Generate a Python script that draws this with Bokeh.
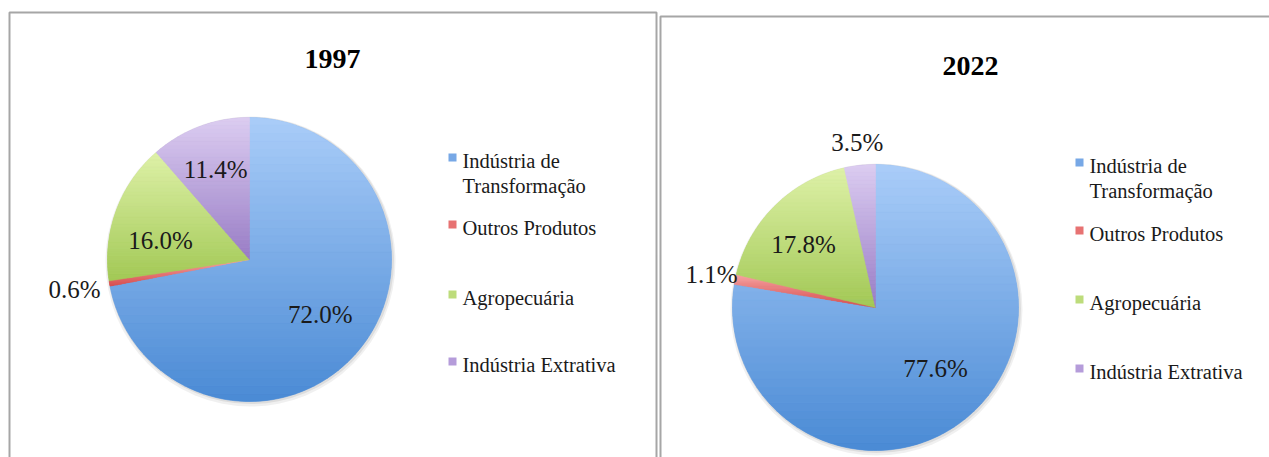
import math
from bokeh.plotting import figure
from bokeh.models import Range1d, ColumnDataSource
from bokeh.embed import file_html
from bokeh.resources import INLINE
from bokeh.core.properties import value

# ---------------- data ----------------
categories = ["Indústria de Transformação", "Outros Produtos", "Agropecuária", "Indústria Extrativa"]
legend_lines = [["Indústria de", "Transformação"], ["Outros Produtos"], ["Agropecuária"], ["Indústria Extrativa"]]
years = ["1997", "2022"]
shares_1997 = [72.0, 0.6, 16.0, 11.4]
shares_2022 = [77.6, 1.1, 17.8, 3.5]

# ---------------- style / layout ----------------
colors = ["#77a8e6", "#e77272", "#bddc7b", "#b59cda"]
light = ["#aacdf8", "#f6a4a4", "#def1a8", "#dccdf1"]
dark = ["#4a8ad5", "#d64c4c", "#a2c855", "#987cc5"]
FONT = "Liberation Serif"
W, H = 1269, 457

def sy(y):  # screen y -> data y
    return H - y

def hex2rgb(h):
    return tuple(int(h[i:i + 2], 16) for i in (1, 3, 5))

def mix(c0, c1, t):
    a, b = hex2rgb(c0), hex2rgb(c1)
    return "#%02x%02x%02x" % tuple(round(a[k] + (b[k] - a[k]) * t) for k in range(3))

def clip_band(poly, ylo, yhi):
    def half(pts, keep, yc):
        out = []
        n = len(pts)
        for k in range(n):
            P, Q = pts[k], pts[(k + 1) % n]
            pin, qin = keep(P), keep(Q)
            if pin:
                out.append(P)
            if pin != qin:
                out.append((P[0] + (Q[0] - P[0]) * (yc - P[1]) / (Q[1] - P[1]), yc))
        return out
    pts = half(poly, lambda P: P[1] >= ylo, ylo)
    if len(pts) < 3:
        return []
    pts = half(pts, lambda P: P[1] <= yhi, yhi)
    return pts if len(pts) >= 3 else []

panels = [
    dict(year=years[0], shares=shares_1997, cx=249, cy=259, r=142,
         title=(332, 58), leg_x=448, leg_y=[160, 227, 297, 364],
         lab_f=[0.63, 1.25, 0.64, 0.68], lab_da=[2, 0, 8, 0],
         border=[(9, 480), (9, 12), (656, 12), (656, 480)]),
    dict(year=years[1], shares=shares_2022, cx=875, cy=307, r=143,
         title=(970, 65), leg_x=1075, leg_y=[165, 233, 302, 371],
         lab_f=[0.60, 1.17, 0.67, 1.16], lab_da=[4, 0, 4, 0],
         border=[(660, 480), (660, 16), (1290, 16)]),
]

p = figure(width=W, height=H, output_backend="svg", toolbar_location=None,
           x_range=Range1d(0, W), y_range=Range1d(0, H),
           min_border=0, outline_line_color=None)
p.axis.visible = False
p.grid.visible = False
p.background_fill_color = "white"

for pan in panels:
    bx = [pt[0] for pt in pan["border"]]
    by = [sy(pt[1]) for pt in pan["border"]]
    p.line(bx, by, line_color="#a6a6a6", line_width=2)

    cx, cy, r = pan["cx"], sy(pan["cy"]), pan["r"]
    # soft shadow
    p.circle(x=cx + 1, y=cy - 2, radius=r + 3, fill_color="#000000", fill_alpha=0.06, line_color=None)
    p.circle(x=cx + 1, y=cy - 1, radius=r + 1.5, fill_color="#000000", fill_alpha=0.08, line_color=None)

    total = sum(pan["shares"])
    starts, ends, mids = [], [], []
    cum = 0.0
    for v in pan["shares"]:
        a0 = math.pi / 2 - 2 * math.pi * cum / total
        cum += v
        a1 = math.pi / 2 - 2 * math.pi * cum / total
        starts.append(a0)
        ends.append(a1)
        mids.append((a0 + a1) / 2)
    src = ColumnDataSource(dict(start=starts, end=ends, color=colors))
    p.wedge(x=cx, y=cy, radius=r, start_angle="start", end_angle="end",
            direction="clock", fill_color="color", line_color=None, source=src)

    # vertical gradient shading of each slice (light at top, dark at bottom)
    gx, gy, gc = [], [], []
    for i, (a0, a1) in enumerate(zip(starts, ends)):
        n = max(2, int(abs(a0 - a1) / math.radians(1.5)) + 1)
        poly = [(cx, cy)] + [(cx + r * math.cos(a0 + (a1 - a0) * k / n),
                              cy + r * math.sin(a0 + (a1 - a0) * k / n)) for k in range(n + 1)]
        ys = [q[1] for q in poly]
        ymin, ymax = min(ys), max(ys)
        nb = 36
        for b in range(nb):
            ylo = ymin + (ymax - ymin) * b / nb
            yhi = ymin + (ymax - ymin) * (b + 1) / nb
            piece = clip_band(poly, ylo, yhi)
            if not piece:
                continue
            t = 1 - (b + 0.5) / nb
            gx.append([q[0] for q in piece])
            gy.append([q[1] for q in piece])
            gc.append(mix(light[i], dark[i], t))
    p.patches(xs=gx, ys=gy, fill_color=gc, line_color=gc, line_width=0.6)

    angs = [m + math.radians(d) for m, d in zip(mids, pan["lab_da"])]
    lx = [cx + f * r * math.cos(a) for f, a in zip(pan["lab_f"], angs)]
    ly = [cy + f * r * math.sin(a) for f, a in zip(pan["lab_f"], angs)]
    labels = [f"{v:.1f}%" for v in pan["shares"]]
    p.text(x=lx, y=ly, text=labels, text_font=value(FONT), text_font_size="25px",
           text_align="center", text_baseline="middle", text_color="#1a1a1a")

    # title
    p.text(x=[pan["title"][0]], y=[sy(pan["title"][1])], text=[pan["year"]],
           text_font=value(FONT), text_font_size="28px", text_font_style="bold",
           text_align="center", text_baseline="middle", text_color="#000000")

    # legend
    sqx, sqy, tx, ty, tt = [], [], [], [], []
    for i, lines in enumerate(legend_lines):
        y0 = pan["leg_y"][i]
        sqx.append(pan["leg_x"] + 4)
        sqy.append(sy(y0 - 3))
        for j, t in enumerate(lines):
            tx.append(pan["leg_x"] + 14)
            ty.append(sy(y0 + 25 * j))
            tt.append(t)
    p.rect(x=sqx, y=sqy, width=8, height=8, fill_color=colors, line_color=None)
    p.text(x=tx, y=ty, text=tt, text_font=value(FONT), text_font_size="20.5px",
           text_align="left", text_baseline="middle", text_color="#1a1a1a")

open("out.html", "w").write(file_html(p, INLINE))
